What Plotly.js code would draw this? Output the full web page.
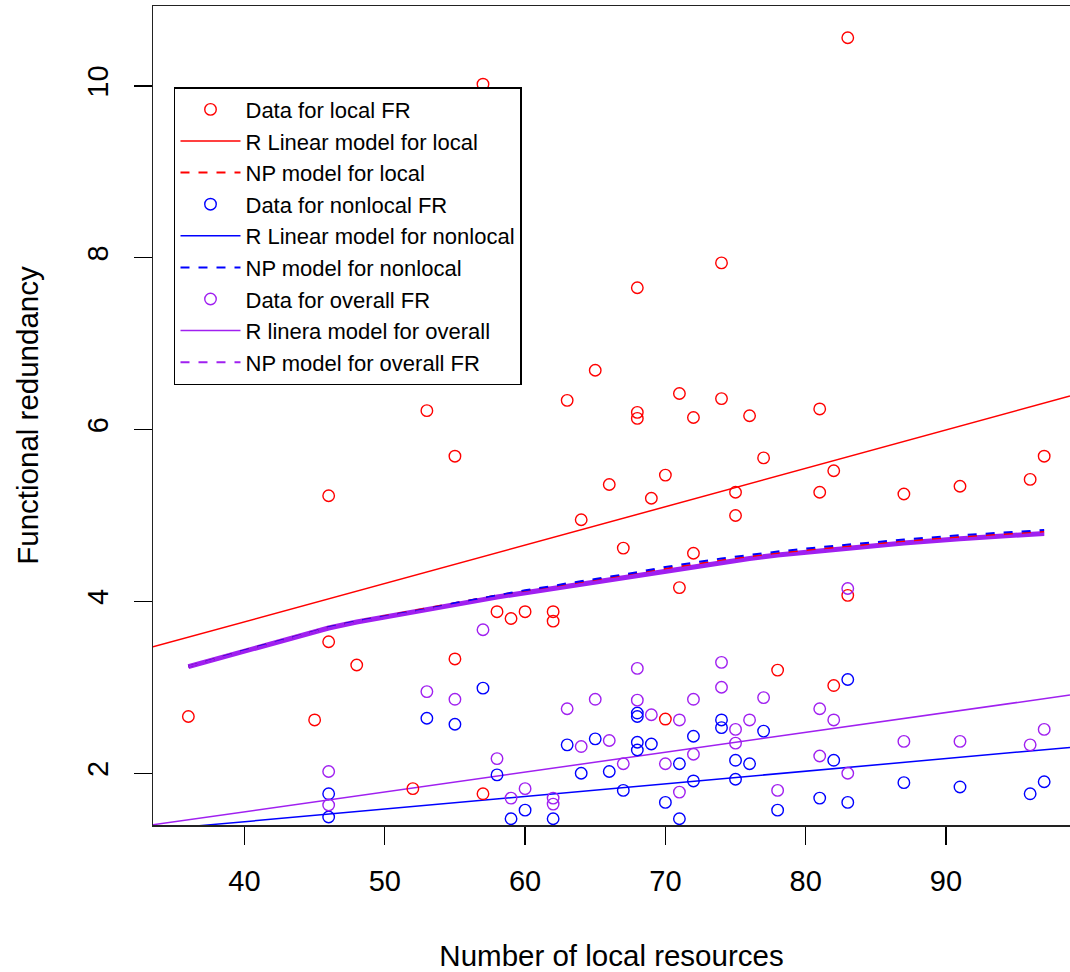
<!DOCTYPE html>
<html>
<head>
<meta charset="utf-8">
<script src="https://cdn.plot.ly/plotly-3.0.1.min.js"></script>
<style>
html, body { margin: 0; padding: 0; background: #ffffff; overflow: hidden; }
#chart { width: 1070px; height: 972px; }
</style>
</head>
<body>
<div id="chart"></div>
<script>
// ---------- data ----------
// Local functional redundancy (red points)
const localX = [36, 45, 46, 46, 48, 52, 53, 55, 55, 57, 57, 58, 59, 60, 62, 62, 63, 64, 65, 66, 67,
                68, 68, 68, 69, 70, 70, 71, 71, 72, 72, 74, 74, 75, 75, 76, 77, 78, 81, 81, 82, 82,
                83, 83, 87, 91, 96, 97];
const localY = [2.66, 2.62, 5.23, 3.53, 3.26, 1.82, 6.22, 5.69, 3.33, 10.02, 1.76, 3.88, 3.80, 3.88, 3.88, 3.77, 6.34, 4.95, 6.69, 5.36, 4.62,
                7.65, 6.20, 6.13, 5.20, 5.47, 2.63, 6.42, 4.16, 6.14, 4.56, 7.94, 6.36, 5.27, 5.00, 6.16, 5.67, 3.20, 6.24, 5.27, 5.52, 3.02,
                10.56, 4.07, 5.25, 5.34, 5.42, 5.69];

// Nonlocal functional redundancy (blue points)
const nonlocalX = [46, 46, 53, 55, 57, 58, 59, 60, 62, 63, 64, 65, 66, 67, 68, 68, 68, 68, 69, 70,
                   71, 71, 72, 72, 74, 74, 75, 75, 76, 77, 78, 81, 82, 83, 83, 87, 91, 96, 97];
const nonlocalY = [1.76, 1.49, 2.64, 2.57, 2.99, 1.98, 1.47, 1.57, 1.47, 2.33, 2.00, 2.40, 2.02, 1.80, 2.70, 2.66, 2.36, 2.27, 2.34, 1.66,
                   2.11, 1.47, 2.43, 1.91, 2.62, 2.53, 2.15, 1.93, 2.11, 2.49, 1.57, 1.71, 2.15, 3.09, 1.66, 1.89, 1.84, 1.76, 1.90];

// Overall functional redundancy (purple points)
const overallX = [46, 46, 53, 55, 57, 58, 59, 60, 62, 62, 63, 64, 65, 66, 67, 68, 68, 69, 70, 71, 71,
                  72, 72, 74, 74, 75, 75, 76, 77, 78, 81, 81, 82, 83, 83, 87, 91, 96, 97];
const overallY = [2.02, 1.63, 2.95, 2.86, 3.67, 2.17, 1.71, 1.82, 1.71, 1.64, 2.75, 2.31, 2.86, 2.38, 2.11, 3.22, 2.85, 2.68, 2.11, 2.62, 1.78,
                  2.86, 2.22, 3.29, 3.00, 2.51, 2.35, 2.62, 2.88, 1.80, 2.75, 2.20, 2.62, 4.15, 2.00, 2.37, 2.37, 2.33, 2.51];

// Linear model lines (end points across the plotted range)
const lmX = [33.48, 98.84];
const lmLocalY = [3.47, 6.39];
const lmNonlocalY = [1.34, 2.30];
const lmOverallY = [1.40, 2.91];

// Nonparametric model fits
const npX = [36, 40, 45, 46, 48, 52, 53, 55, 57, 58, 60, 62, 63, 65, 67, 68, 70, 72, 74, 76, 78, 81, 83, 87, 91, 96, 97];
const npLocalY = [3.24, 3.43, 3.65, 3.70, 3.77, 3.89, 3.92, 3.98, 4.04, 4.07, 4.12, 4.17, 4.20, 4.25, 4.30, 4.33, 4.38, 4.43, 4.48, 4.52, 4.56, 4.61, 4.64, 4.70, 4.75, 4.80, 4.81];
const npNonlocalY = [3.24, 3.43, 3.65, 3.70, 3.77, 3.88, 3.91, 3.98, 4.04, 4.07, 4.13, 4.18, 4.21, 4.26, 4.31, 4.34, 4.40, 4.45, 4.50, 4.54, 4.58, 4.63, 4.66, 4.72, 4.77, 4.82, 4.83];
const npOverallY = [3.24, 3.42, 3.64, 3.69, 3.76, 3.87, 3.90, 3.96, 4.02, 4.05, 4.10, 4.15, 4.18, 4.23, 4.28, 4.31, 4.36, 4.41, 4.46, 4.50, 4.54, 4.59, 4.62, 4.68, 4.73, 4.78, 4.79];

const legendNames = [
  "Data for local FR", "R Linear model for local", "NP model for local",
  "Data for nonlocal FR", "R Linear model for nonlocal", "NP model for nonlocal",
  "Data for overall FR", "R linera model for overall", "NP model for overall FR"
];

const xTicks = [40, 50, 60, 70, 80, 90];
const yTicks = [2, 4, 6, 8, 10];

// ---------- styles ----------
const RED = "#FF0000", BLUE = "#0000FF", PURPLE = "#A020F0";
const FONT = "Arial, 'Liberation Sans', Helvetica, sans-serif";

function pts(x, y, color, name, rank) {
  return { type: "scatter", mode: "markers", x: x, y: y, name: name, legendrank: rank,
           marker: { symbol: "circle-open", size: 11.5, color: color, line: { width: 1.4, color: color } },
           cliponaxis: true, hoverinfo: "x+y" };
}
function line(x, y, color, name, rank, dash, width, show) {
  return { type: "scatter", mode: "lines", x: x, y: y, name: name, legendrank: rank,
           showlegend: show !== false,
           line: { color: color, width: width, dash: dash }, hoverinfo: "x+y" };
}

const traces = [
  // band formed by the overlapping NP fits
  line(npX, npOverallY, PURPLE, "NP band", 100, "solid", 5, false),
  line(npX, npLocalY, RED, legendNames[2], 3, "dash", 2),
  line(npX, npNonlocalY, BLUE, legendNames[5], 6, "dash", 2),
  line(npX, npOverallY, PURPLE, legendNames[8], 9, "dash", 2),
  line(lmX, lmLocalY, RED, legendNames[1], 2, "solid", 1.5),
  line(lmX, lmNonlocalY, BLUE, legendNames[4], 5, "solid", 1.5),
  line(lmX, lmOverallY, PURPLE, legendNames[7], 8, "solid", 1.5),
  pts(localX, localY, RED, legendNames[0], 1),
  pts(nonlocalX, nonlocalY, BLUE, legendNames[3], 4),
  pts(overallX, overallY, PURPLE, legendNames[6], 7)
];

const layout = {
  width: 1070, height: 972,
  margin: { l: 153, r: 0, t: 6, b: 147, pad: 0 },
  paper_bgcolor: "#ffffff", plot_bgcolor: "#ffffff",
  font: { family: FONT, color: "#000000", size: 29 },
  showlegend: true,
  legend: {
    x: 0.0229, y: 0.901, xanchor: "left", yanchor: "top",
    bgcolor: "#ffffff", bordercolor: "#000000", borderwidth: 1.5,
    font: { family: FONT, size: 22, color: "#000000" },
    traceorder: "normal", itemwidth: 60
  },
  xaxis: {
    range: [33.48, 98.84], autorange: false,
    tickmode: "array", tickvals: xTicks, ticktext: xTicks.map(String),
    ticks: "outside", ticklen: 18, tickwidth: 1.2, tickcolor: "#000000",
    ticklabelstandoff: 12,
    showline: true, linecolor: "#222222", linewidth: 1.5, mirror: true,
    showgrid: false, zeroline: false,
    tickfont: { family: FONT, size: 29, color: "#000000" },
    title: { text: "Number of local resources", font: { family: FONT, size: 29.5, color: "#000000" }, standoff: 50 }
  },
  yaxis: {
    range: [1.397, 10.93], autorange: false,
    tickmode: "array", tickvals: yTicks, ticktext: yTicks.map(String),
    tickangle: -90,
    ticks: "outside", ticklen: 18, tickwidth: 1.2, tickcolor: "#000000",
    ticklabelstandoff: 14,
    showline: true, linecolor: "#222222", linewidth: 1.5, mirror: false,
    showgrid: false, zeroline: false,
    tickfont: { family: FONT, size: 29, color: "#000000" },
    title: { text: "Functional redundancy", font: { family: FONT, size: 29.5, color: "#000000" }, standoff: 34 }
  }
};

Plotly.newPlot("chart", traces, layout, { displayModeBar: false, staticPlot: true });
</script>
</body>
</html>
